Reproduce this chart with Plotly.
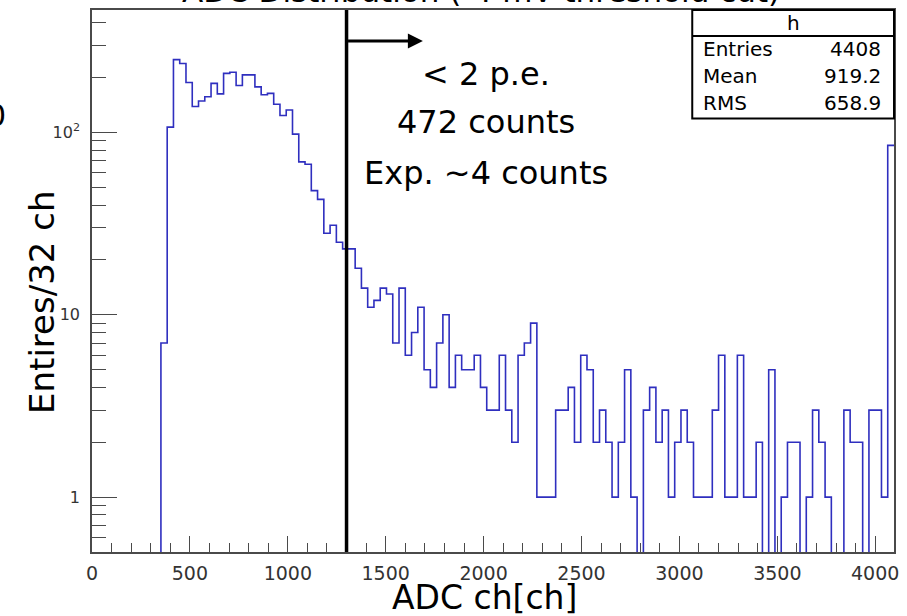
import numpy as np
import plotly.graph_objects as go

# ---------------- data ----------------
bin_width = 32
n_bins = 128
counts = [
    0, 0, 0, 0, 0, 0, 0, 0, 0, 0, 0,            # 0-10
    7, 107, 251, 239, 188, 139, 149, 157, 186,   # 11-19
    163, 211, 214, 181, 207, 207, 178, 161, 164, 143,  # 20-29
    124, 133, 98, 69, 67, 48, 43, 28, 31, 25,    # 30-39
    23, 23, 18, 14, 11, 12, 14, 13, 7, 14,       # 40-49
    6, 8, 11, 5, 4, 7, 10, 4, 6, 5,             # 50-59
    5, 6, 4, 3, 3, 6, 3, 2, 6, 7,               # 60-69
    9, 1, 1, 1, 3, 3, 4, 2, 6, 5,               # 70-79
    2, 3, 2, 1, 2, 5, 1, 0, 3, 4,               # 80-89
    2, 3, 1, 2, 3, 2, 1, 1, 1, 3,               # 90-99
    6, 1, 1, 6, 1, 1, 2, 0, 5, 0,               # 100-109
    1, 2, 2, 0, 1, 3, 2, 1, 0, 0,               # 110-119
    3, 2, 2, 0, 3, 3, 1, 85,                    # 120-127
]
threshold = 1300
arrow_end = 1690
x_ticks = [0, 500, 1000, 1500, 2000, 2500, 3000, 3500, 4000]
y_ticks = [1, 10, 100]
y_ticktext = ["1", "10", "10<sup>2</sup>"]
y_minor = [0.6, 0.7, 0.8, 0.9, 2, 3, 4, 5, 6, 7, 8, 9,
           20, 30, 40, 50, 60, 70, 80, 90, 200, 300, 400]
stats_labels = ["Entries", "Mean", "RMS"]
stats_values = ["4408", "919.2", "658.9"]
texts = ["&lt; 2 p.e.", "472 counts", "Exp. ~4 counts"]
x_title = "ADC ch[ch]"
y_title = "Entires/32 ch"
title = "ADC Distribution (-4 mV threshold cut)"

# ---------------- geometry ----------------
W, H = 907, 616
L, R, T, B = 92, 12, 8, 64
pw, ph = W - L - R, H - T - B


def px(xpix):
    return (xpix - L) / pw


def py(ypix):
    return (H - B - ypix) / ph


edges = np.arange(n_bins + 1) * bin_width
c = np.array(counts, dtype=float)
y_draw = np.where(c > 0, c, 1e-3)
y_step = np.append(y_draw, y_draw[-1])

FONT = "DejaVu Sans"
BLUE = "#2f2fbf"
AX = "#4a4a4a"

fig = go.Figure()
fig.add_trace(go.Scatter(
    x=edges, y=y_step, mode="lines", line=dict(shape="hv", color=BLUE, width=1.6),
    hoverinfo="skip", showlegend=False))

fig.update_layout(
    width=W, height=H, margin=dict(l=L, r=R, t=T, b=B),
    plot_bgcolor="white", paper_bgcolor="white", showlegend=False,
    font=dict(family=FONT, color="black"),
)

fig.update_xaxes(
    range=[0, n_bins * bin_width], showgrid=False, zeroline=False,
    showline=True, linecolor=AX, linewidth=1.5, mirror=True,
    tickmode="array", tickvals=x_ticks, ticks="inside", ticklen=16,
    tickcolor=AX, tickwidth=1.3,
    tickfont=dict(family=FONT, size=19, color="#333"),
    ticklabelstandoff=3,
    minor=dict(dtick=100, tick0=0, ticks="inside", ticklen=9, tickcolor=AX, tickwidth=1.2),
)
fig.update_yaxes(
    type="log", range=[np.log10(0.5), 2.672], showgrid=False, zeroline=False,
    showline=True, linecolor=AX, linewidth=1.5, mirror=True,
    tickmode="array", tickvals=y_ticks, ticktext=y_ticktext,
    ticks="inside", ticklen=25, tickcolor=AX, tickwidth=1.3,
    tickfont=dict(family=FONT, size=16, color="#333"),
    ticklabelstandoff=7,
    minor=dict(tickmode="array", tickvals=y_minor, ticks="inside", ticklen=14,
               tickcolor=AX, tickwidth=1.2),
)

# axis titles
fig.add_annotation(x=px(485), y=py(598), xref="paper", yref="paper", text=x_title,
                   showarrow=False, xanchor="center", yanchor="middle",
                   font=dict(family=FONT, size=33, color="black"))
fig.add_annotation(x=px(42), y=py(302), xref="paper", yref="paper", text=y_title,
                   showarrow=False, xanchor="center", yanchor="middle", textangle=-90,
                   font=dict(family=FONT, size=34, color="black"))

# threshold line and arrow
fig.add_shape(type="line", xref="x", yref="paper", x0=threshold, x1=threshold, y0=0, y1=1,
              line=dict(color="black", width=3.5))
fig.add_annotation(x=arrow_end, y=py(39), xref="x", yref="paper",
                   ax=threshold, ay=0, axref="x", ayref="pixel",
                   showarrow=True, arrowhead=2, arrowsize=1.0, arrowwidth=3,
                   arrowcolor="black", text="")

# annotation texts
for t, yp in zip(texts, [72, 120, 172]):
    fig.add_annotation(x=px(486), y=py(yp), xref="paper", yref="paper", text=t,
                       showarrow=False, xanchor="center", yanchor="middle",
                       font=dict(family=FONT, size=32, color="black"))

# clipped title
fig.add_annotation(x=px(481), y=1, xref="paper", yref="paper",
                   text=title, showarrow=False,
                   xanchor="center", yanchor="middle", yshift=19,
                   font=dict(family=FONT, size=31, color="black"))
# clipped glyph at left edge
fig.add_annotation(x=px(-4), y=py(114), xref="paper", yref="paper", text="0",
                   showarrow=False, xanchor="center", yanchor="middle",
                   font=dict(family=FONT, size=30, color="black"))

# stats box
fig.add_shape(type="rect", xref="paper", yref="paper", x0=px(693), x1=1.0,
              y0=py(117), y1=1.0, line=dict(color="black", width=2), fillcolor="white")
fig.add_shape(type="line", xref="paper", yref="paper", x0=px(693), x1=1.0,
              y0=py(34), y1=py(34), line=dict(color="black", width=2))
fig.add_annotation(x=px(794), y=py(21), xref="paper", yref="paper", text="h",
                   showarrow=False, xanchor="center", yanchor="middle",
                   font=dict(family=FONT, size=20, color="black"))
for lab, val, yp in zip(stats_labels, stats_values, [47, 74, 101]):
    fig.add_annotation(x=px(702), y=py(yp), xref="paper", yref="paper", text=lab,
                       showarrow=False, xanchor="left", yanchor="middle",
                       font=dict(family=FONT, size=20, color="black"))
    fig.add_annotation(x=px(884), y=py(yp), xref="paper", yref="paper", text=val,
                       showarrow=False, xanchor="right", yanchor="middle",
                       font=dict(family=FONT, size=20, color="black"))

fig.write_html("out.html")
